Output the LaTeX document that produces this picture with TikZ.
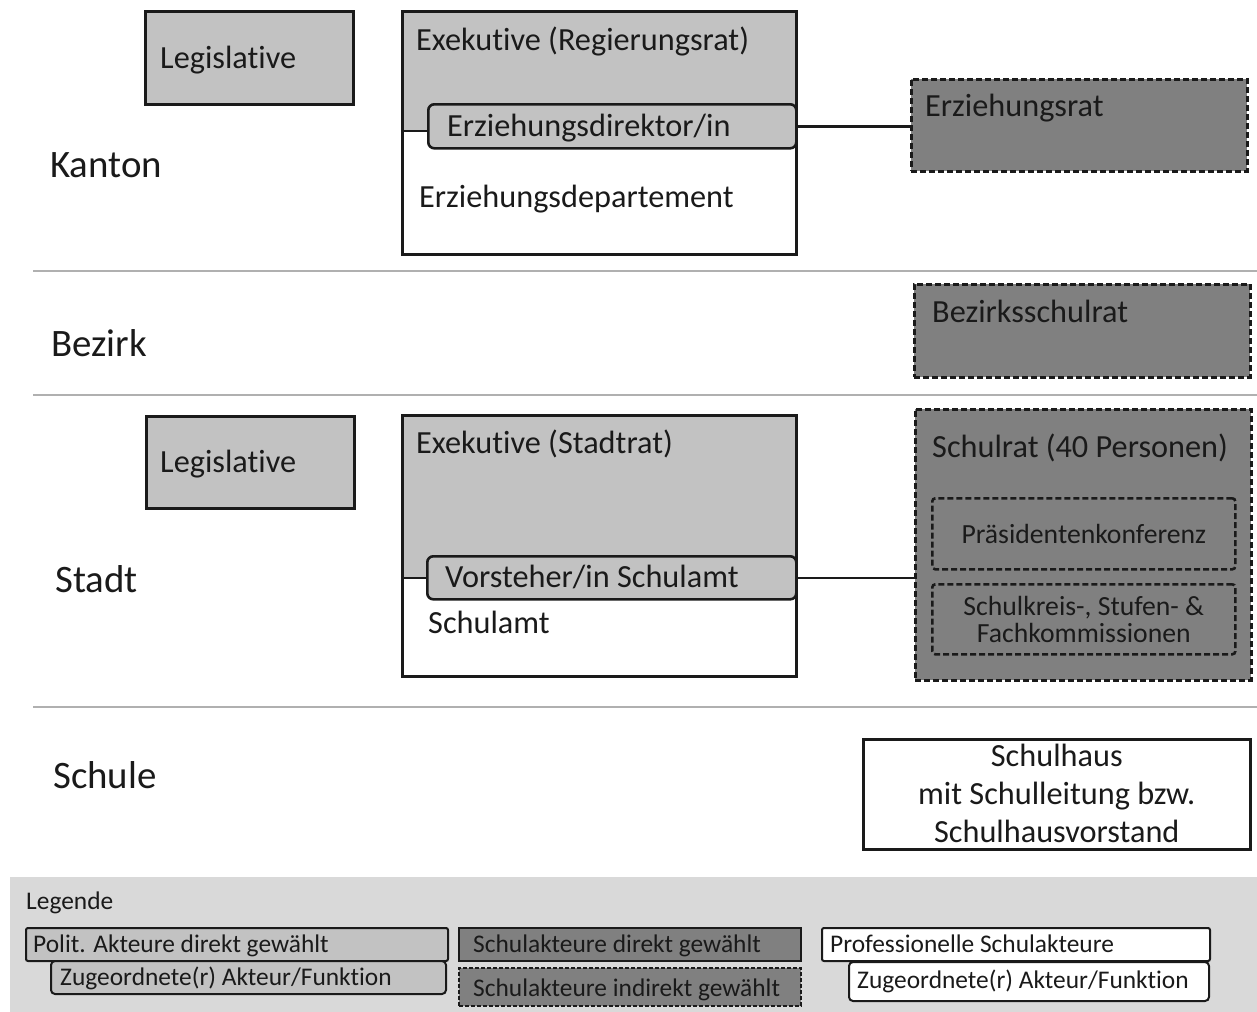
\documentclass[tikz,border=0pt]{standalone}
\usepackage{fontspec}
\setmainfont{Carlito}[Ligatures=NoCommon]
\begin{document}
\begin{tikzpicture}[x=1bp,y=-1bp,
  lg/.style={fill=lgray},
  box/.style={draw=ink, line width=2.6bp, inner sep=0pt, anchor=north west},
  dbox/.style={box, dash pattern=on 6bp off 3bp},
  rbox/.style={box, rounded corners=6bp},
  lvl/.style={anchor=base west, font=\fontsize{39}{44}\selectfont, text=ink, inner sep=0pt},
  txt/.style={anchor=base west, font=\fontsize{32.4}{38}\selectfont, text=ink, inner sep=0pt},
  stxt/.style={font=\fontsize{27.8}{30}\selectfont, text=ink, inner sep=0pt, align=center},
  ltxt/.style={anchor=base west, font=\fontsize{25.5}{28}\selectfont, text=ink, inner sep=0pt},
  sep/.style={draw=sepc, line width=2.6bp},
  conn/.style={draw=ink, line width=2.6bp}
]
\definecolor{lgray}{HTML}{C2C2C2}
\definecolor{dgray}{HTML}{808080}
\definecolor{ink}{HTML}{1A1A1A}
\definecolor{sepc}{HTML}{B0B0B0}
\definecolor{legbg}{HTML}{D9D9D9}
\useasboundingbox (0,0) rectangle (1257,1012);

% separators
\coordinate (s1a) at (33,271); \coordinate (s1b) at (1257,271);
\coordinate (s2a) at (33,395); \coordinate (s2b) at (1257,395);
\coordinate (s3a) at (33,707); \coordinate (s3b) at (1257,707);
\draw[sep] (s1a) -- (s1b);
\draw[sep] (s2a) -- (s2b);
\draw[sep] (s3a) -- (s3b);

% level labels
\node[lvl] (kanton) at (50,177) {Kanton};
\node[lvl] (bezirk) at (51,356) {Bezirk};
\node[lvl] (stadt) at (55,592) {Stadt};
\node[lvl] (schule) at (53,788) {Schule};

% ===== Kanton =====
\node[box, lg, minimum width=208bp, minimum height=93bp] (legK) at (144,10) {};
\node[txt] (legKt) at (160,68) {Legislative};

\fill[lgray] (401,10) rectangle (795,131);
\node[box, minimum width=394bp, minimum height=243bp] (exK) at (401,10) {};
\node[txt] (exKt) at (416,50) {Exekutive (Regierungsrat)};
\node[rbox, lg, minimum width=368bp, minimum height=44bp] (dirK) at (427,103) {};
\node[txt] (dirKt) at (447,136) {Erziehungsdirektor/in};
\node[txt] (depK) at (419,207) {Erziehungsdepartement};
\coordinate (dirKl) at (427,131);
\draw[conn] (exK.west |- dirKl) -- (dirKl);

\node[dbox, fill=dgray, minimum width=336bp, minimum height=92bp] (erzR) at (910,78) {};
\node[txt] (erzRt) at (925,116) {Erziehungsrat};
\draw[conn] (dirK.east) -- (erzR.west |- dirK.east);

% ===== Bezirk =====
\node[dbox, fill=dgray, minimum width=336bp, minimum height=93bp] (bezR) at (913,283) {};
\node[txt] (bezRt) at (932,322) {Bezirksschulrat};

% ===== Stadt =====
\node[box, lg, minimum width=208bp, minimum height=92bp] (legS) at (145,415) {};
\node[txt] (legSt) at (160,472) {Legislative};

\fill[lgray] (401,414) rectangle (795,577);
\node[box, minimum width=394bp, minimum height=261bp] (exS) at (401,414) {};
\node[txt] (exSt) at (416,453) {Exekutive (Stadtrat)};
\node[rbox, lg, minimum width=369bp, minimum height=43bp] (vorS) at (426,555) {};
\node[txt] (vorSt) at (445,587) {Vorsteher/in Schulamt};
\node[txt] (amtS) at (428,633) {Schulamt};
\draw[conn] (exS.west |- vorS.west) -- (vorS.west);

\node[dbox, fill=dgray, minimum width=336bp, minimum height=271bp] (schR) at (914,408) {};
\node[txt] (schRt) at (932,457) {Schulrat (40 Personen)};
\node[dbox, minimum width=303bp, minimum height=71bp, rounded corners=3bp] (praes) at (931,497) {};
\node[stxt] (praest) at (praes.center) {Präsidentenkonferenz};
\node[dbox, minimum width=303bp, minimum height=70bp, rounded corners=3bp] (komm) at (931,583) {};
\node[stxt] (kommt) at (komm.center) {Schulkreis-, Stufen- \&\\[-3bp]Fachkommissionen};
\draw[conn] (vorS.east) -- (schR.west |- vorS.east);

% ===== Schule =====
\node[box, fill=white, minimum width=387bp, minimum height=110bp] (haus) at (862,738) {};
\node[font=\fontsize{32.4}{38.5}\selectfont, text=ink, align=center, inner sep=0pt] (haust) at ([yshift=1bp]haus.center) {Schulhaus\\mit Schulleitung bzw.\\Schulhausvorstand};

% ===== Legend =====
\node[anchor=north west, fill=legbg, minimum width=1247bp, minimum height=135bp, inner sep=0pt] (leg) at (10,877) {};
\node[ltxt] (legt) at (26,909) {Legende};

\node[box, lg, line width=2bp, minimum width=422bp, minimum height=33bp, rounded corners=2bp] (l1) at (25,927) {};
\node[ltxt] (l1t) at (33,952) {Polit. Akteure direkt gewählt};
\node[box, lg, line width=2bp, minimum width=395bp, minimum height=33bp, rounded corners=4bp] (l2) at (50,960) {};
\node[ltxt] (l2t) at (60,985) {Zugeordnete(r) Akteur/Funktion};

\node[box, fill=dgray, line width=2bp, minimum width=342bp, minimum height=33bp] (l3) at (458,927) {};
\node[ltxt] (l3t) at (473,952) {Schulakteure direkt gewählt};
\node[dbox, fill=dgray, line width=2bp, dash pattern=on 4bp off 2bp, minimum width=342bp, minimum height=38bp] (l4) at (458,967) {};
\node[ltxt] (l4t) at (473,996) {Schulakteure indirekt gewählt};

\node[box, fill=white, line width=2bp, minimum width=388bp, minimum height=33bp, rounded corners=2bp] (l5) at (821,927) {};
\node[ltxt] (l5t) at (830,952) {Professionelle Schulakteure};
\node[box, fill=white, line width=2bp, minimum width=360bp, minimum height=39bp, rounded corners=4bp] (l6) at (848,961) {};
\node[ltxt] (l6t) at (857,988) {Zugeordnete(r) Akteur/Funktion};
\end{tikzpicture}
\end{document}
